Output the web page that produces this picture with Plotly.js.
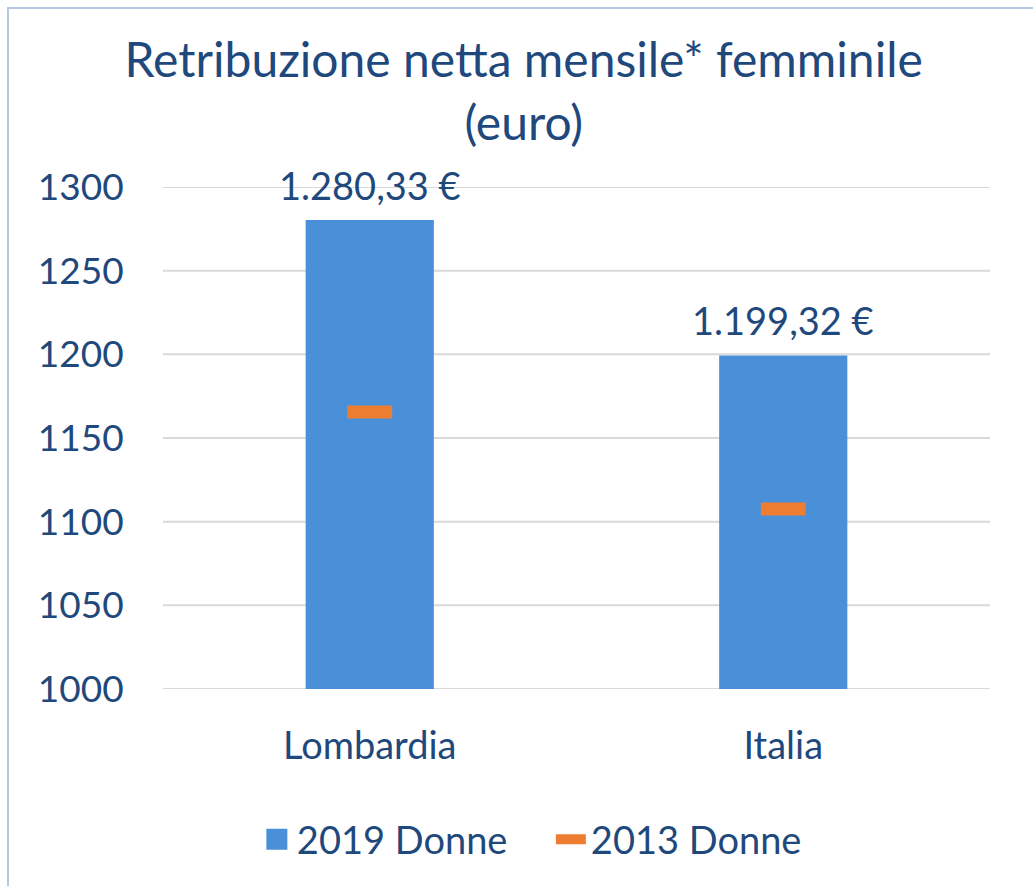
<!DOCTYPE html>
<html>
<head>
<meta charset="utf-8">
<script src="https://cdn.plot.ly/plotly-3.0.1.min.js"></script>
<style>
  html, body { margin: 0; padding: 0; background: #ffffff; }
  #frame { position: absolute; left: 0; top: 0; width: 1033px; height: 886px; overflow: hidden; background: #fff; }
  #border { position: absolute; left: 7px; top: 7px; width: 1040px; height: 900px; border-left: 2px solid #b4c8e2; border-top: 2px solid #b4c8e2; pointer-events: none; z-index: 5; }
  #chart { position: absolute; left: 0; top: 0; width: 1033px; height: 886px; }
</style>
</head>
<body>
<div id="frame">
  <div id="chart"></div>
  <div id="border"></div>
</div>
<script>
const categories = ["Lombardia", "Italia"];
const values2019 = [1280.33, 1199.32];
const values2013 = [1165.5, 1107.5];
const seriesNames = ["2019 Donne", "2013 Donne"];
const yTicks = [1000, 1050, 1100, 1150, 1200, 1250, 1300];

const FONT = "Lato, 'Open Sans', sans-serif";
const TXT = "#1f497d";
const BLUE = "#4a90d9";
const ORANGE = "#ed7d31";

function fmtEuro(v) {
  const parts = v.toFixed(2).split(".");
  const intPart = parts[0].replace(/\B(?=(\d{3})+(?!\d))/g, ".");
  return intPart + "," + parts[1] + " €";
}

const traces = [
  {
    type: "bar",
    name: seriesNames[0],
    x: categories,
    y: values2019,
    marker: { color: BLUE },
    width: 0.31,
    showlegend: false,
    hoverinfo: "skip"
  },
  {
    type: "scatter",
    mode: "markers",
    name: seriesNames[1],
    x: categories,
    y: values2013,
    marker: { symbol: "line-ew", size: 32, color: ORANGE, line: { color: ORANGE, width: 13 } },
    showlegend: false,
    hoverinfo: "skip"
  },
  {
    // legend entry for the bar series
    type: "scatter",
    mode: "markers",
    name: seriesNames[0],
    x: [null],
    y: [null],
    marker: { symbol: "square", size: 16, color: BLUE, line: { color: BLUE, width: 5 } },
    hoverinfo: "skip"
  },
  {
    // legend entry for the 2013 marker series
    type: "scatter",
    mode: "lines",
    name: seriesNames[1],
    x: [null],
    y: [null],
    line: { color: ORANGE, width: 11 },
    hoverinfo: "skip"
  }
];

const annotations = categories.map((c, i) => ({
  x: c, y: values2019[i], xref: "x", yref: "y",
  text: fmtEuro(values2019[i]),
  showarrow: false, yanchor: "bottom", yshift: 10,
  font: { family: FONT, size: 38, color: TXT }
}));

const gridShapes = yTicks.map(t => ({
  type: "line", layer: "below",
  xref: "paper", x0: 0, x1: 1,
  yref: "y", y0: t, y1: t,
  line: { color: "#d9d9d9", width: 2 }
}));

const layout = {
  width: 1033, height: 886,
  paper_bgcolor: "#ffffff", plot_bgcolor: "#ffffff",
  margin: { l: 163, r: 43, t: 187, b: 197, autoexpand: false },
  separators: ",.",
  title: {
    text: "Retribuzione netta mensile* femminile<br>(euro)",
    font: { family: FONT, size: 48, color: TXT },
    x: 0.507, xanchor: "center", xref: "container",
    y: 0.9126, yanchor: "middle", yref: "container"
  },
  showlegend: true,
  legend: {
    orientation: "h", x: 0.469, xanchor: "center",
    y: -0.30, yanchor: "middle",
    font: { family: FONT, size: 38, color: TXT },
    itemwidth: 30, traceorder: "normal",
    entrywidth: 249, entrywidthmode: "pixels"
  },
  xaxis: {
    type: "category",
    tickfont: { family: FONT, size: 38, color: TXT },
    ticks: "outside", ticklen: 23, tickcolor: "rgba(0,0,0,0)",
    tickangle: 0,
    showgrid: false, showline: false, zeroline: false
  },
  yaxis: {
    range: [1000, 1300],
    tickvals: yTicks,
    ticktext: yTicks.map(String),
    tickfont: { family: FONT, size: 37, color: TXT },
    ticks: "outside", ticklen: 31, tickcolor: "rgba(0,0,0,0)",
    showgrid: false, showline: false, zeroline: false
  },
  shapes: gridShapes,
  annotations: annotations
};

Plotly.newPlot("chart", traces, layout, { displayModeBar: false, staticPlot: true });
</script>
</body>
</html>
